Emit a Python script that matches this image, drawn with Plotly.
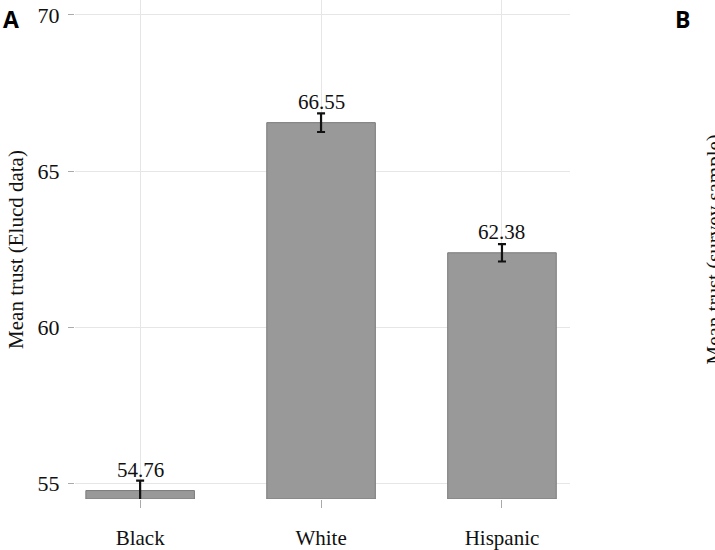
import plotly.graph_objects as go

categories = ["Black", "White", "Hispanic"]
means = [54.76, 66.55, 62.38]
errors = [0.32, 0.30, 0.28]
y_ticks = [55, 60, 65, 70]
y_title = "Mean trust (Elucd data)"
panel_b_title = "Mean trust (survey sample)"

Y_MIN, Y_MAX = 54.49, 70.48
SERIF = "Liberation Serif"

fig = go.Figure()
fig.add_trace(go.Bar(
    x=categories,
    y=[m - Y_MIN for m in means],
    base=Y_MIN,
    width=0.6,
    marker=dict(color="#999999", line=dict(color="#7a7a7a", width=1)),
    hoverinfo="skip",
))
fig.add_trace(go.Scatter(
    x=categories,
    y=means,
    mode="markers",
    marker=dict(size=1, color="rgba(0,0,0,0)"),
    error_y=dict(type="data", array=errors, color="#111111", thickness=2.2, width=4),
    hoverinfo="skip",
))

for c, m in zip(categories, means):
    fig.add_annotation(
        x=c, y=m, text=f"{m:.2f}", showarrow=False,
        yanchor="bottom", yshift=7,
        font=dict(family=SERIF, size=21, color="#111111"),
    )

fig.add_annotation(
    xref="paper", yref="paper", x=(1 - 75) / 495, y=1.0, xanchor="left", yanchor="top",
    text="<b>A</b>", showarrow=False, yshift=-1,
    font=dict(family="Open Sans", size=23, color="#000000"),
)
fig.add_annotation(
    xref="paper", yref="paper", x=(682 - 75) / 495, y=1.0, xanchor="center", yanchor="top",
    text="<b>B</b>", showarrow=False, yshift=-1,
    font=dict(family="Open Sans", size=23, color="#000000"),
)
fig.add_annotation(
    xref="paper", yref="paper", x=(713 - 75) / 495, y=0.5, xanchor="center", yanchor="middle",
    text=panel_b_title, showarrow=False, textangle=-90,
    font=dict(family=SERIF, size=21, color="#111111"),
)

fig.update_layout(
    width=715, height=550,
    margin=dict(l=75, r=145, t=0, b=49),
    paper_bgcolor="white", plot_bgcolor="white",
    showlegend=False,
    font=dict(family=SERIF, size=21, color="#111111"),
    xaxis=dict(
        range=[-0.36, 2.376],
        showgrid=True, gridcolor="#e6e6e6", gridwidth=1,
        ticks="outside", ticklen=8, tickcolor="#aaaaaa", tickwidth=1,
        showline=False, zeroline=False,
        ticklabelstandoff=12,
        tickfont=dict(family=SERIF, size=21, color="#111111"),
    ),
    yaxis=dict(
        range=[Y_MIN, Y_MAX],
        tickvals=y_ticks,
        showgrid=True, gridcolor="#e6e6e6", gridwidth=1,
        ticks="outside", ticklen=6, tickcolor="#aaaaaa", tickwidth=1,
        showline=False, zeroline=False,
        ticklabelstandoff=4,
        tickfont=dict(family=SERIF, size=22, color="#111111"),
        title=dict(text=y_title, standoff=8,
                   font=dict(family=SERIF, size=21, color="#111111")),
    ),
)

fig.write_html("out.html")
